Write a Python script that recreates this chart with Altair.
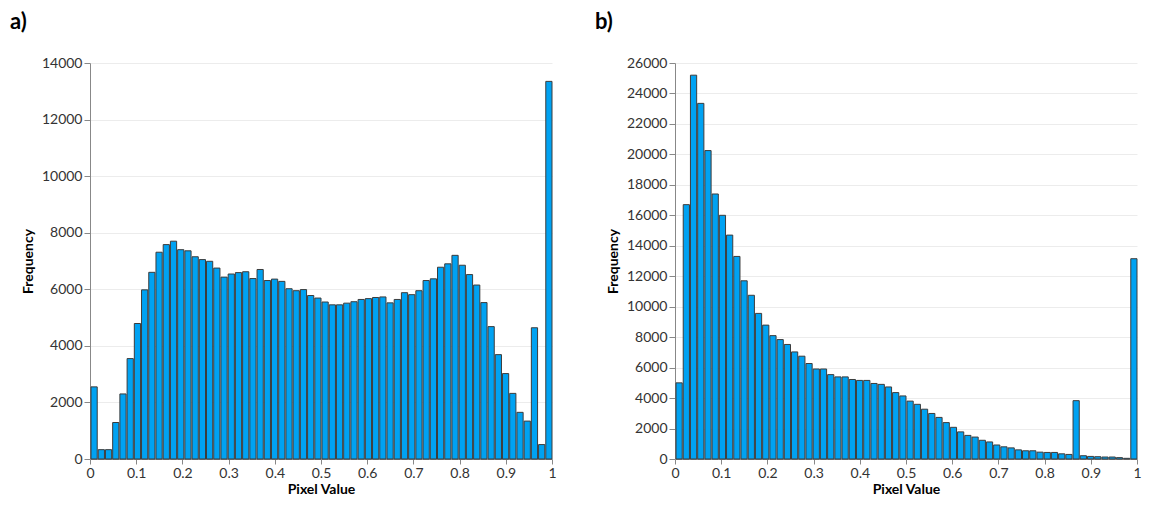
import altair as alt
import pandas as pd

N_BINS = 64

counts_a = [2550, 330, 330, 1290, 2300, 3550, 4790, 5980, 6600, 7310,
            7580, 7700, 7400, 7360, 7150, 7050, 6990, 6750, 6430, 6540,
            6590, 6620, 6380, 6700, 6310, 6360, 6280, 6020, 5950, 5990,
            5780, 5690, 5550, 5450, 5450, 5510, 5560, 5640, 5670, 5710,
            5730, 5520, 5640, 5880, 5810, 5950, 6310, 6370, 6780, 6900,
            7200, 6850, 6520, 6150, 5530, 4680, 3690, 3020, 2320, 1650,
            1340, 4640, 510, 13350]

counts_b = [5000, 16700, 25200, 23350, 20250, 17400, 16000, 14700, 13300, 11700,
            10750, 9560, 8790, 8100, 7840, 7520, 7030, 6750, 6270, 5910,
            5910, 5540, 5390, 5390, 5220, 5160, 5160, 4960, 4900, 4730,
            4360, 4140, 3800, 3590, 3270, 2990, 2730, 2390, 2080, 1780,
            1550, 1440, 1230, 1120, 920, 800, 730, 600, 540, 540,
            450, 430, 430, 340, 300, 3830, 215, 170, 150, 130,
            130, 90, 45, 13150]

x_ticks = [0, 0.1, 0.2, 0.3, 0.4, 0.5, 0.6, 0.7, 0.8, 0.9, 1]
y_ticks_a = [0, 2000, 4000, 6000, 8000, 10000, 12000, 14000]
y_ticks_b = [0, 2000, 4000, 6000, 8000, 10000, 12000, 14000, 16000, 18000,
             20000, 22000, 24000, 26000]

labels = ["a)", "b)"]
x_title = "Pixel Value"
y_title = "Frequency"

FONT = "Lato"


def make_df(counts):
    starts = [i / N_BINS for i in range(N_BINS)]
    ends = [(i + 1) / N_BINS for i in range(N_BINS)]
    return pd.DataFrame({"start": starts, "end": ends, "count": counts})


def panel(counts, label, ymax, yticks):
    df = make_df(counts)
    return alt.Chart(
        df,
        title=alt.TitleParams(
            label, anchor="start", frame="group", dx=-80,
            fontSize=22, fontWeight="bold", font=FONT, color="#000", offset=22,
        ),
    ).mark_bar(color="#00a2f2", stroke="#3c3c3c", strokeWidth=1).encode(
        x=alt.X(
            "start:Q", bin="binned",
            scale=alt.Scale(domain=[0, 1], nice=False, zero=False),
            axis=alt.Axis(values=x_ticks, format="~g", title=x_title, tickSize=5,
                          labelFlush=False, titlePadding=2),
        ),
        x2="end:Q",
        y=alt.Y(
            "count:Q",
            scale=alt.Scale(domain=[0, ymax], nice=False),
            axis=alt.Axis(values=yticks, format="d", title=y_title, titlePadding=6, tickSize=6),
        ),
    ).properties(width=462, height=396)


left = panel(counts_a, labels[0], 14000, y_ticks_a)
right = panel(counts_b, labels[1], 26000, y_ticks_b)

chart = alt.hconcat(left, right, spacing=38).properties(
    padding={"left": 2, "top": 3, "right": 0, "bottom": 0}
).configure_axis(
    labelFont=FONT, labelFontSize=14, labelColor="#333",
    titleFont=FONT, titleFontSize=14, titleFontWeight="bold", titleColor="#000",
    gridColor="#ececec", domainColor="#888", tickColor="#888",
).configure_view(stroke=None)

chart.save("out.html", embed_options={"renderer": "svg", "actions": False})
